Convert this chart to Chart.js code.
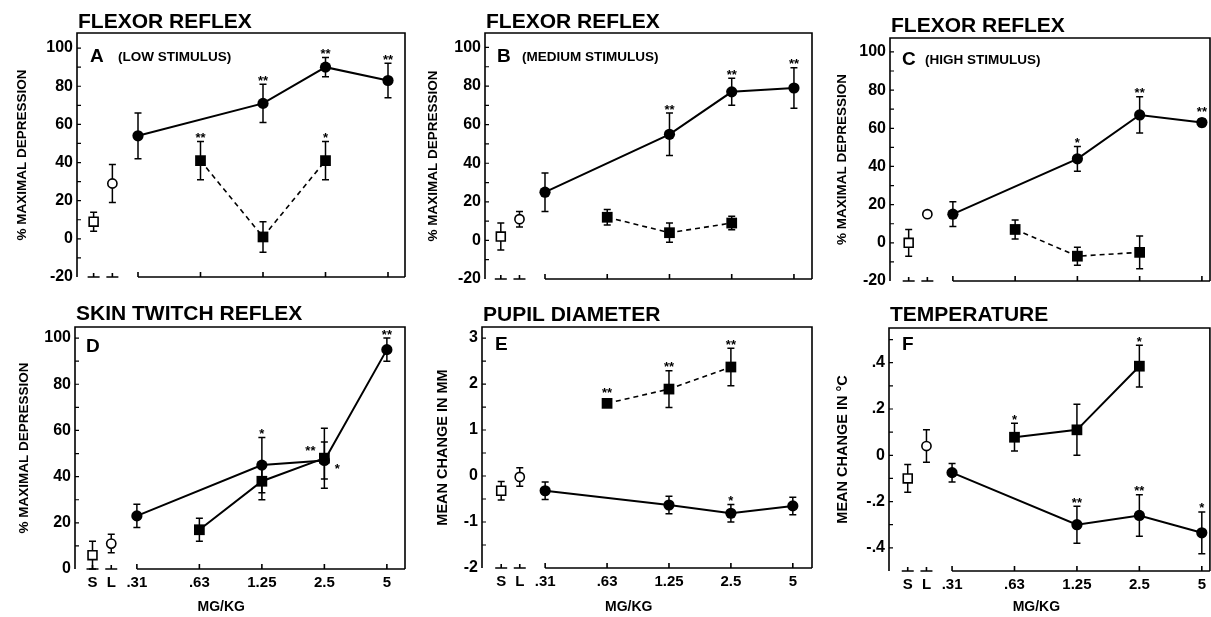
<!DOCTYPE html>
<html lang="en">
<head>
    <meta charset="UTF-8">
    <title>Dose response panels</title>
    <script src="https://cdn.jsdelivr.net/npm/chart.js@4.4.0/dist/chart.umd.min.js"></script>
    <style>
        body { margin: 0; background: #fff; }
        #wrap { position: relative; width: 1211px; height: 617px; }
        canvas { position: absolute; }
    </style>
</head>
<body>
<div id="wrap">
    <canvas id="panelA"></canvas>
    <canvas id="panelB"></canvas>
    <canvas id="panelC"></canvas>
    <canvas id="panelD"></canvas>
    <canvas id="panelE"></canvas>
    <canvas id="panelF"></canvas>
</div>

<script>
// ---- data ----
const doseLabels = ['S', 'L', '.31', '.63', '1.25', '2.5', '5'];
const circleDoses = ['.31', '1.25', '2.5', '5'];
const squareDoses = ['.63', '1.25', '2.5'];

const pctTicks = [-20, 0, 20, 40, 60, 80, 100];
const pctTickLabels = ['-20', '0', '20', '40', '60', '80', '100'];
const dTicks = [0, 20, 40, 60, 80, 100];
const dTickLabels = ['0', '20', '40', '60', '80', '100'];
const eTicks = [-2, -1, 0, 1, 2, 3];
const eTickLabels = ['-2', '-1', '0', '1', '2', '3'];
const fTicks = [-0.4, -0.2, 0, 0.2, 0.4];
const fTickLabels = ['-.4', '-.2', '0', '.2', '.4'];

// A  flexor reflex, low stimulus
const aControlMean = [9, 29];
const aControlSem = [5, 10];
const aCircleMean = [54, 71, 90, 83];
const aCircleSem = [12, 10, 5, 9];
const aCircleStars = ['', '**', '**', '**'];
const aSquareMean = [41, 1, 41];
const aSquareSem = [10, 8, 10];
const aSquareStars = ['**', '', '*'];

// B  flexor reflex, medium stimulus
const bControlMean = [2, 11];
const bControlSem = [7, 4];
const bCircleMean = [25, 55, 77, 79];
const bCircleSem = [10, 11, 7, 10.5];
const bCircleStars = ['', '**', '**', '**'];
const bSquareMean = [12, 4, 9];
const bSquareSem = [4, 5, 3.5];
const bSquareStars = ['', '', ''];

// C  flexor reflex, high stimulus
const cControlMean = [0, 15];
const cControlSem = [7, 0];
const cCircleMean = [15, 44, 67, 63];
const cCircleSem = [6.5, 6.5, 9.5, 2];
const cCircleStars = ['', '*', '**', '**'];
const cSquareMean = [7, -7, -5];
const cSquareSem = [5, 4.7, 8.6];
const cSquareStars = ['', '', ''];

// D  skin twitch reflex
const dControlMean = [6, 11];
const dControlSem = [6, 4];
const dCircleMean = [23, 45, 47, 95];
const dCircleSem = [5, 12, 8, 5];
const dCircleStars = ['', '*', '**', '**'];
const dSquareMean = [17, 38, 48];
const dSquareSem = [5, 8, 13];
const dSquareStars = ['', '', '*'];

// E  pupil diameter
const eControlMean = [-0.32, -0.02];
const eControlSem = [0.2, 0.2];
const eCircleMean = [-0.32, -0.63, -0.81, -0.65];
const eCircleSem = [0.19, 0.19, 0.19, 0.19];
const eCircleStars = ['', '', '*', ''];
const eSquareMean = [1.58, 1.89, 2.37];
const eSquareSem = [0, 0.4, 0.41];
const eSquareStars = ['**', '**', '**'];

// F  temperature
const fControlMean = [-0.10, 0.04];
const fControlSem = [0.06, 0.07];
const fCircleMean = [-0.075, -0.30, -0.26, -0.335];
const fCircleSem = [0.04, 0.08, 0.09, 0.09];
const fCircleStars = ['', '**', '**', '*'];
const fSquareMean = [0.078, 0.11, 0.385];
const fSquareSem = [0.06, 0.11, 0.09];
const fSquareStars = ['*', '', '*'];

// where each dose sits on the (broken) x axis
const axisPos = { 'S': -0.71, 'L': -0.41, '.31': 0, '.63': 1, '1.25': 2, '2.5': 3, '5': 4 };

Chart.defaults.font.family = "'Liberation Sans', Arial, Helvetica, sans-serif";
Chart.defaults.font.weight = 'bold';
Chart.defaults.color = '#000';

function pts(doses, means) {
    return doses.map((d, i) => ({ x: axisPos[d], y: means[i] }));
}

// frame, inward ticks, error bars, stars and panel text
const panelDeco = {
    id: 'panelDeco',
    beforeDatasetsDraw(chart) {
        const cfg = chart.options.plugins.panelDeco;
        const { ctx, chartArea: a, scales: { x, y } } = chart;
        ctx.save();
        ctx.strokeStyle = '#000';
        ctx.lineWidth = 1.6;
        ctx.beginPath();
        ctx.moveTo(a.left, a.bottom);
        ctx.lineTo(a.left, a.top);
        ctx.lineTo(a.right, a.top);
        ctx.lineTo(a.right, a.bottom);
        ctx.stroke();

        // broken bottom axis
        ctx.beginPath();
        ['S', 'L'].forEach(d => {
            const px = x.getPixelForValue(axisPos[d]);
            ctx.moveTo(px - 6, a.bottom); ctx.lineTo(px + 6, a.bottom);
            ctx.moveTo(px, a.bottom); ctx.lineTo(px, a.bottom - 4);
        });
        const p0 = x.getPixelForValue(0);
        ctx.moveTo(p0, a.bottom); ctx.lineTo(a.right, a.bottom);
        ['.31', '.63', '1.25', '2.5', '5'].forEach(d => {
            const px = x.getPixelForValue(axisPos[d]);
            ctx.moveTo(px, a.bottom); ctx.lineTo(px, a.bottom - 5);
        });
        ctx.stroke();

        // y ticks pointing inward, major and half steps
        const t = cfg.yTicks;
        const half = (t[1] - t[0]) / 2;
        ctx.lineWidth = 1.2;
        ctx.beginPath();
        for (let i = -4; i <= t.length * 2 + 4; i++) {
            const v = t[0] + i * half;
            if (v <= y.min + 1e-9 || v >= y.max - 1e-9) continue;
            const py = y.getPixelForValue(v);
            ctx.moveTo(a.left, py); ctx.lineTo(a.left + 4, py);
        }
        ctx.stroke();

        // error bars
        ctx.lineWidth = 1.5;
        chart.data.datasets.forEach((ds, di) => {
            const meta = chart.getDatasetMeta(di);
            (ds.sem || []).forEach((s, i) => {
                if (!s) return;
                const pt = meta.data[i];
                const v = ds.data[i].y;
                const top = y.getPixelForValue(v + s);
                const bot = y.getPixelForValue(v - s);
                ctx.beginPath();
                ctx.moveTo(pt.x, top); ctx.lineTo(pt.x, bot);
                ctx.moveTo(pt.x - 3.5, top); ctx.lineTo(pt.x + 3.5, top);
                ctx.moveTo(pt.x - 3.5, bot); ctx.lineTo(pt.x + 3.5, bot);
                ctx.stroke();
            });
        });
        ctx.restore();
    },
    afterDatasetsDraw(chart) {
        const cfg = chart.options.plugins.panelDeco;
        const { ctx, chartArea: a, scales: { x, y } } = chart;
        ctx.save();
        ctx.fillStyle = '#000';

        // significance stars
        ctx.font = "bold 13px 'Liberation Sans', Arial, sans-serif";
        ctx.textAlign = 'center';
        ctx.textBaseline = 'alphabetic';
        chart.data.datasets.forEach((ds, di) => {
            const meta = chart.getDatasetMeta(di);
            (ds.stars || []).forEach((s, i) => {
                if (!s) return;
                const pt = meta.data[i];
                const side = (ds.starSide || [])[i];
                if (side === 'left') {
                    ctx.fillText(s, pt.x - 14, pt.y - 5);
                } else if (side === 'right') {
                    ctx.fillText(s, pt.x + 13, pt.y + 15);
                } else {
                    const v = ds.data[i].y;
                    const top = Math.min(y.getPixelForValue(v + (ds.sem[i] || 0)), pt.y - 7);
                    ctx.fillText(s, pt.x, top + 0.5);
                }
            });
        });

        // panel heading, letter and stimulus
        ctx.textAlign = 'left';
        ctx.font = "bold 21px 'Liberation Sans', Arial, sans-serif";
        ctx.fillText(cfg.title, a.left + 1, cfg.titleBase);
        ctx.font = "bold 19px 'Liberation Sans', Arial, sans-serif";
        ctx.fillText(cfg.letter, a.left + cfg.letterX, a.top + cfg.letterBase);
        if (cfg.sub) {
            ctx.font = "bold 13.5px 'Liberation Sans', Arial, sans-serif";
            ctx.fillText(cfg.sub, a.left + cfg.subX, a.top + cfg.letterBase - 1);
        }
        if (cfg.xTitle) {
            ctx.textAlign = 'center';
            ctx.textBaseline = 'middle';
            ctx.font = "bold 14px 'Liberation Sans', Arial, sans-serif";
            ctx.fillText('MG/KG', x.getPixelForValue(1.35), chart.height - 10);
        }
        ctx.restore();
    }
};

function makePanel(id, p) {
    const el = document.getElementById(id);
    el.width = p.w; el.height = p.h;
    el.style.left = p.left + 'px';
    el.style.top = p.top + 'px';

    const datasets = [
        { data: pts(['S'], [p.controlMean[0]]), sem: [p.controlSem[0]], showLine: false,
          pointStyle: 'rect', pointRadius: 6.3, pointBackgroundColor: '#fff',
          pointBorderColor: '#000', pointBorderWidth: 1.6 },
        { data: pts(['L'], [p.controlMean[1]]), sem: [p.controlSem[1]], showLine: false,
          pointStyle: 'circle', pointRadius: 4.6, pointBackgroundColor: '#fff',
          pointBorderColor: '#000', pointBorderWidth: 1.6 },
        { data: pts(circleDoses, p.circleMean), sem: p.circleSem, stars: p.circleStars,
          starSide: p.circleStarSide, borderColor: '#000', borderWidth: 2,
          pointStyle: 'circle', pointRadius: 5.6, pointBackgroundColor: '#000',
          pointBorderColor: '#000', pointBorderWidth: 0 },
        { data: pts(squareDoses, p.squareMean), sem: p.squareSem, stars: p.squareStars,
          starSide: p.squareStarSide, borderColor: '#000',
          borderWidth: p.dashed ? 1.6 : 2, borderDash: p.dashed ? [5, 4] : [],
          pointStyle: 'rect', pointRadius: 7.6, pointBackgroundColor: '#000',
          pointBorderColor: '#000', pointBorderWidth: 0 }
    ];

    new Chart(el, {
        type: 'line',
        data: { datasets },
        plugins: [panelDeco],
        options: {
            responsive: false,
            animation: false,
            devicePixelRatio: 1,
            layout: { autoPadding: false, padding: { left: 0, top: p.padT, right: p.padR, bottom: 0 } },
            plugins: {
                legend: { display: false },
                tooltip: { enabled: false },
                panelDeco: {
                    title: p.title, titleBase: p.titleBase, letter: p.letter,
                    letterX: p.letterX, letterBase: p.letterBase,
                    sub: p.sub, subX: p.subX, yTicks: p.yTicks, xTitle: p.xLabels
                }
            },
            scales: {
                x: {
                    type: 'linear', min: p.xMin, max: p.xMax,
                    grid: { display: false, drawTicks: false },
                    border: { display: false },
                    afterBuildTicks: s => { s.ticks = doseLabels.map(d => ({ value: axisPos[d] })); },
                    afterFit: s => { s.height = p.xH; },
                    ticks: {
                        display: p.xLabels, autoSkip: false, maxRotation: 0, padding: 5,
                        font: { size: 15, weight: 'bold' },
                        callback: (v, i) => doseLabels[i]
                    }
                },
                y: {
                    min: p.yMin, max: p.yMax,
                    grid: { display: false, drawTicks: false },
                    border: { display: false },
                    afterBuildTicks: s => { s.ticks = p.yTicks.map(v => ({ value: v })); },
                    afterFit: s => { s.width = p.yW; },
                    ticks: {
                        padding: 4, font: { size: 16, weight: 'bold' },
                        callback: (v, i) => p.yTickLabels[i]
                    },
                    title: {
                        display: true, text: p.yTitle,
                        font: { size: p.yTitleSize, weight: 'bold' },
                        padding: { top: p.yTitlePad, bottom: 0 }
                    }
                }
            }
        }
    });
}

makePanel('panelA', {
    left: 0, top: 0, w: 410, h: 300, yW: 77, padR: 5, padT: 33, xH: 23,
    xMin: -0.976, xMax: 4.272, yMin: -20, yMax: 107.9,
    yTicks: pctTicks, yTickLabels: pctTickLabels, xLabels: false,
    yTitle: '% MAXIMAL DEPRESSION', yTitleSize: 13.5, yTitlePad: 14,
    title: 'FLEXOR REFLEX', titleBase: 28, letter: 'A', letterX: 13, letterBase: 29,
    sub: '(LOW STIMULUS)', subX: 41,
    controlMean: aControlMean, controlSem: aControlSem,
    circleMean: aCircleMean, circleSem: aCircleSem, circleStars: aCircleStars,
    squareMean: aSquareMean, squareSem: aSquareSem, squareStars: aSquareStars, dashed: true
});

makePanel('panelB', {
    left: 410, top: 0, w: 405, h: 300, yW: 75, padR: 3, padT: 33, xH: 21,
    xMin: -0.964, xMax: 4.29, yMin: -20, yMax: 107.5,
    yTicks: pctTicks, yTickLabels: pctTickLabels, xLabels: false,
    yTitle: '% MAXIMAL DEPRESSION', yTitleSize: 13.5, yTitlePad: 15,
    title: 'FLEXOR REFLEX', titleBase: 28, letter: 'B', letterX: 12, letterBase: 29,
    sub: '(MEDIUM STIMULUS)', subX: 37,
    controlMean: bControlMean, controlSem: bControlSem,
    circleMean: bCircleMean, circleSem: bCircleSem, circleStars: bCircleStars,
    squareMean: bSquareMean, squareSem: bSquareSem, squareStars: bSquareStars, dashed: true
});

makePanel('panelC', {
    left: 815, top: 0, w: 396, h: 300, yW: 75, padR: 1, padT: 38, xH: 19,
    xMin: -1.01, xMax: 4.13, yMin: -20, yMax: 107.3,
    yTicks: pctTicks, yTickLabels: pctTickLabels, xLabels: false,
    yTitle: '% MAXIMAL DEPRESSION', yTitleSize: 13.5, yTitlePad: 19,
    title: 'FLEXOR REFLEX', titleBase: 31.5, letter: 'C', letterX: 12, letterBase: 27,
    sub: '(HIGH STIMULUS)', subX: 35,
    controlMean: cControlMean, controlSem: cControlSem,
    circleMean: cCircleMean, circleSem: cCircleSem, circleStars: cCircleStars,
    squareMean: cSquareMean, squareSem: cSquareSem, squareStars: cSquareStars, dashed: true
});

makePanel('panelD', {
    left: 0, top: 300, w: 410, h: 317, yW: 75, padR: 5, padT: 27, xH: 48,
    xMin: -0.99, xMax: 4.29, yMin: 0, yMax: 104.8,
    yTicks: dTicks, yTickLabels: dTickLabels, xLabels: true,
    yTitle: '% MAXIMAL DEPRESSION', yTitleSize: 13.5, yTitlePad: 16,
    title: 'SKIN TWITCH REFLEX', titleBase: 20, letter: 'D', letterX: 11, letterBase: 25,
    controlMean: dControlMean, controlSem: dControlSem,
    circleMean: dCircleMean, circleSem: dCircleSem, circleStars: dCircleStars,
    circleStarSide: ['', '', 'left', ''],
    squareMean: dSquareMean, squareSem: dSquareSem, squareStars: dSquareStars,
    squareStarSide: ['', '', 'right'], dashed: false
});

makePanel('panelE', {
    left: 410, top: 300, w: 405, h: 317, yW: 72, padR: 3, padT: 27, xH: 49,
    xMin: -1.02, xMax: 4.31, yMin: -2, yMax: 3.24,
    yTicks: eTicks, yTickLabels: eTickLabels, xLabels: true,
    yTitle: 'MEAN CHANGE IN MM', yTitleSize: 14.5, yTitlePad: 24,
    title: 'PUPIL DIAMETER', titleBase: 21, letter: 'E', letterX: 13, letterBase: 23,
    controlMean: eControlMean, controlSem: eControlSem,
    circleMean: eCircleMean, circleSem: eCircleSem, circleStars: eCircleStars,
    squareMean: eSquareMean, squareSem: eSquareSem, squareStars: eSquareStars, dashed: true
});

makePanel('panelF', {
    left: 815, top: 300, w: 396, h: 317, yW: 74, padR: 1, padT: 28, xH: 46,
    xMin: -1.01, xMax: 4.13, yMin: -0.5, yMax: 0.55,
    yTicks: fTicks, yTickLabels: fTickLabels, xLabels: true,
    yTitle: 'MEAN CHANGE IN °C', yTitleSize: 14.5, yTitlePad: 19,
    title: 'TEMPERATURE', titleBase: 21, letter: 'F', letterX: 13, letterBase: 22,
    controlMean: fControlMean, controlSem: fControlSem,
    circleMean: fCircleMean, circleSem: fCircleSem, circleStars: fCircleStars,
    squareMean: fSquareMean, squareSem: fSquareSem, squareStars: fSquareStars, dashed: false
});
</script>
</body>
</html>
